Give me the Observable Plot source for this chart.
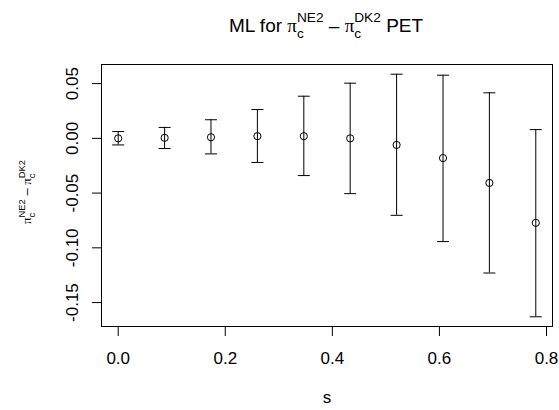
<!DOCTYPE html>
<html>
<head>
<meta charset="utf-8">
<script src="https://cdn.jsdelivr.net/npm/d3@7"></script>
<script src="https://cdn.jsdelivr.net/npm/@observablehq/plot@0.6"></script>
<style>
  html, body { margin: 0; padding: 0; background: #fff; }
  #chart svg { display: block; }
</style>
</head>
<body>
<div id="chart"></div>
<script>
// ---- data ----
const s     = [0, 0.0867, 0.1733, 0.26, 0.3467, 0.4333, 0.52, 0.6067, 0.6933, 0.78];
const est   = [0.000, 0.0005, 0.001, 0.002, 0.002, 0.000, -0.006, -0.018, -0.0407, -0.0772];
const lower = [-0.006, -0.0093, -0.0142, -0.022, -0.034, -0.0505, -0.0703, -0.0943, -0.123, -0.163];
const upper = [0.0062, 0.010, 0.017, 0.0263, 0.0385, 0.0504, 0.0586, 0.0577, 0.0416, 0.008];
const xTicks = [0, 0.2, 0.4, 0.6, 0.8];
const yTicks = [-0.15, -0.10, -0.05, 0.00, 0.05];

const data = s.map((v, i) => ({s: v, est: est[i], lo: lower[i], hi: upper[i]}));

// R-style 4% padding of the data range
function rDomain(lo, hi) { const p = (hi - lo) * 0.04; return [lo - p, hi + p]; }
const xDom = rDomain(d3.min(s), d3.max(s));
const yDom = rDomain(d3.min(lower), d3.max(upper));

const cap = { draw(ctx) { ctx.moveTo(-6, 0); ctx.lineTo(6, 0); } };
const FONT = "'Liberation Sans', Arial, Helvetica, sans-serif";

const chart = Plot.plot({
  width: 559,
  height: 410,
  marginTop: 64,
  marginLeft: 101,
  marginRight: 7,
  marginBottom: 84,
  style: { fontFamily: FONT, color: "black", background: "white" },
  x: { domain: xDom },
  y: { domain: yDom },
  marks: [
    Plot.frame({ stroke: "black", strokeWidth: 1 }),
    Plot.axisX({ ticks: xTicks, tickSize: 10, tickPadding: 15, fontSize: 17,
                 tickFormat: d => d.toFixed(1), label: null }),
    Plot.axisY({ ticks: yTicks, tickSize: 9, tickPadding: 15, fontSize: 17, tickRotate: -90,
                 tickFormat: d => d.toFixed(2), label: null }),
    Plot.ruleX(data, { x: "s", y1: "lo", y2: "hi", stroke: "black", strokeWidth: 1 }),
    Plot.dot(data, { x: "s", y: "hi", r: 6, symbol: cap, stroke: "black", fill: "none", strokeWidth: 1 }),
    Plot.dot(data, { x: "s", y: "lo", r: 6, symbol: cap, stroke: "black", fill: "none", strokeWidth: 1 }),
    Plot.dot(data, { x: "s", y: "est", r: 3.6, stroke: "black", fill: "none", strokeWidth: 1 }),
    Plot.text(["s"], { frameAnchor: "bottom", dy: 76, fontSize: 17, text: d => d })
  ]
});
document.getElementById("chart").appendChild(chart);

// plotmath-like layout of  pi_c^NE2 - pi_c^DK2  expressions
function mathText(svg, pieces, base, cx, cy, rotate) {
  const ns = "http://www.w3.org/2000/svg";
  const g = document.createElementNS(ns, "g");
  svg.appendChild(g);
  const inner = document.createElementNS(ns, "g");
  g.appendChild(inner);
  let x = 0;
  function put(t, size, dy, family) {
    const el = document.createElementNS(ns, "text");
    el.setAttribute("x", x);
    el.setAttribute("y", dy);
    el.setAttribute("font-size", size);
    el.setAttribute("font-family", family || FONT);
    el.setAttribute("text-anchor", "start");
    el.setAttribute("fill", "black");
    el.setAttribute("xml:space", "preserve");
    el.style.whiteSpace = "pre";
    el.textContent = t;
    inner.appendChild(el);
    return el.getComputedTextLength();
  }
  for (const p of pieces) {
    if (p.sub !== undefined) {
      const sz = base * 0.72;
      const w1 = put(p.sub, sz, base * 0.33);
      const w2 = put(p.sup, sz, -base * 0.5);
      x += Math.max(w1, w2);
    } else {
      x += put(p.t, base, 0, p.family);
    }
  }
  inner.setAttribute("transform", `translate(${-x / 2},0)`);
  g.setAttribute("transform", `translate(${cx},${cy}) rotate(${rotate || 0})`);
}
const svg = chart;
const PI = "'Liberation Serif', 'DejaVu Serif', serif";
const expr = [
  {t: "π", family: PI}, {sub: "c", sup: "NE2"}, {t: " – "},
  {t: "π", family: PI}, {sub: "c", sup: "DK2"}
];
mathText(svg, [{t: "ML for "}, ...expr, {t: " PET"}], 19, 326, 31.7, 0);
mathText(svg, expr, 13, 31, 192, -90);
</script>
</body>
</html>
